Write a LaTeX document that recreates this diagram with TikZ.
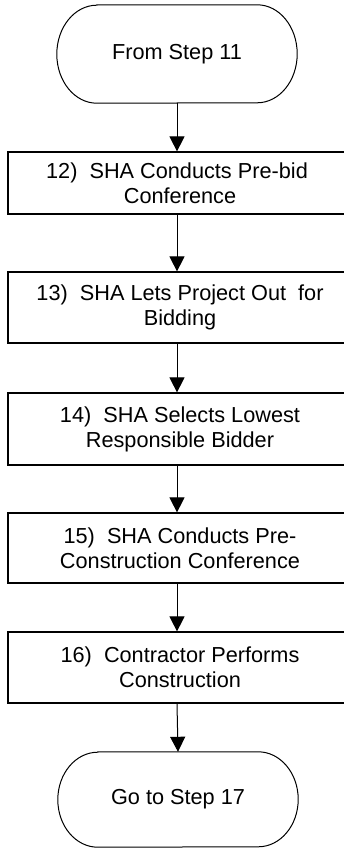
\documentclass[tikz,border=0pt]{standalone}
\usepackage{fontspec}
\setmainfont{Liberation Sans}
\usetikzlibrary{arrows.meta}

\tikzset{
  stepbox/.style={draw, line width=1.2pt, minimum width=344pt, align=center,
    inner sep=0pt, font=\fontsize{21.7}{25}\selectfont},
  termbox/.style={minimum width=240pt, inner sep=0pt, align=center,
    font=\fontsize{21.7}{25}\selectfont},
  termline/.style={line width=1pt},
  flow/.style={line width=1pt, -{Triangle[width=15pt,length=15pt]}}
}

% draws the pill outline of a terminal node with elliptic ends
\newcommand{\pilloutline}[3]{% node, x radius, y radius
  \draw[termline] ([xshift=#2]#1.north west) -- ([xshift=-#2]#1.north east)
    arc[start angle=90, end angle=-90, x radius=#2, y radius=#3]
    -- ([xshift=#2]#1.south west)
    arc[start angle=270, end angle=90, x radius=#2, y radius=#3] -- cycle;
}

\begin{document}
\begin{tikzpicture}[x=1pt, y=-1pt]
  \useasboundingbox (0,0) rectangle (344,848);
  \clip (0,0) rectangle (344,848);

  \node[termbox, minimum height=98pt] (start) at (177,54) {From Step 11};
  \pilloutline{start}{40pt}{49pt}

  % step boxes run on past the right edge of the page
  \node[stepbox, minimum height=62pt] (s12) at (180,183)
    {\hspace*{-6pt}12)\ \ SHA Conducts Pre-bid\\Conference};
  \node[stepbox, minimum height=71pt] (s13) at (180,307.5)
    {13)\ \ SHA Lets Project Out\ \ for\\Bidding};
  \node[stepbox, minimum height=72pt] (s14) at (180,429)
    {14)\ \ SHA Selects Lowest\\Responsible Bidder};
  \node[stepbox, minimum height=70pt] (s15) at (180,548)
    {15)\ \ SHA Conducts Pre-\\Construction Conference};
  \node[stepbox, minimum height=71pt] (s16) at (180,667.5)
    {16)\ \ Contractor Performs\\Construction};

  \node[termbox, minimum height=95pt] (stop) at (178,799.5) {Go to Step 17};
  \pilloutline{stop}{40pt}{47.5pt}

  \draw[flow] (start.south) -- (start.south |- s12.north);
  \draw[flow] (start.south |- s12.south) -- (start.south |- s13.north);
  \draw[flow] (start.south |- s13.south) -- (start.south |- s14.north);
  \draw[flow] (start.south |- s14.south) -- (start.south |- s15.north);
  \draw[flow] (start.south |- s15.south) -- (start.south |- s16.north);
  \draw[flow] (start.south |- s16.south) -- (stop.north);
\end{tikzpicture}
\end{document}
